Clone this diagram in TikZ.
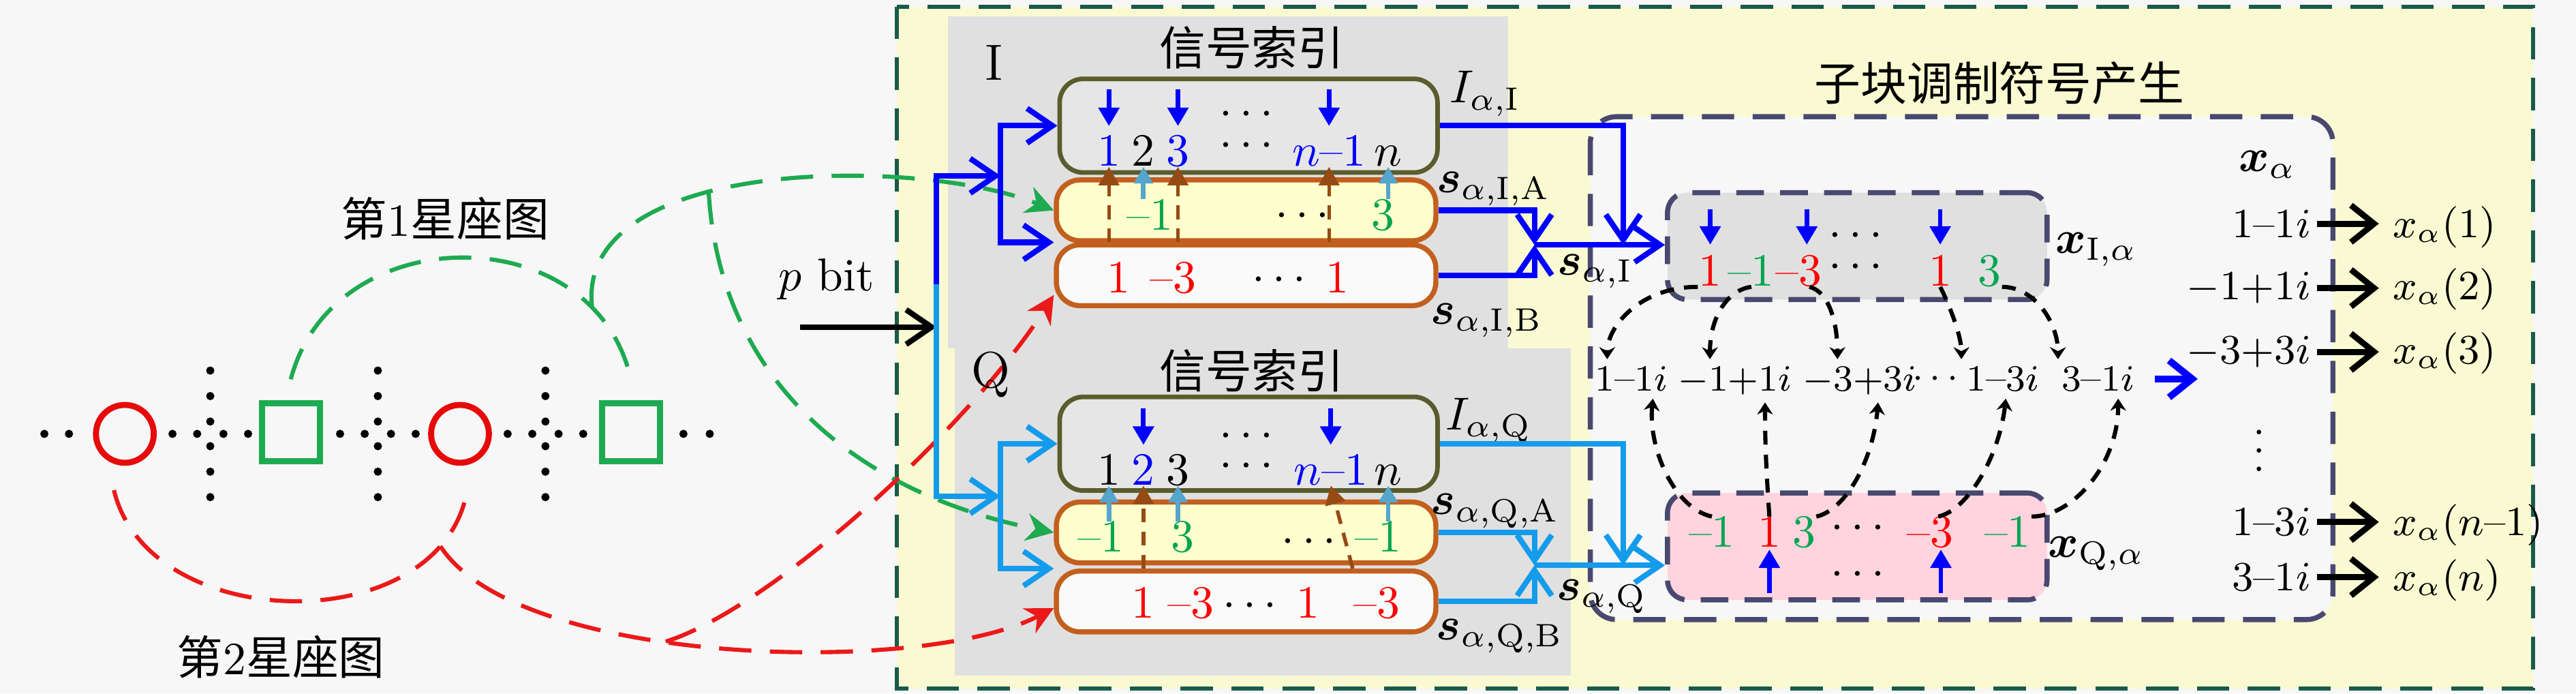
\documentclass[tikz,border=0pt]{standalone}
\usepackage{amsmath,amssymb}
\usepackage{fontspec}
\newfontfamily\cjk{Noto Sans CJK SC}
\usepackage{tikz}
\usetikzlibrary{arrows.meta,calc}
\definecolor{paper}{RGB}{247,247,247}
\definecolor{paleyellow}{RGB}{250,250,210}
\definecolor{panelgray}{RGB}{224,224,224}
\definecolor{boxgray}{RGB}{230,230,230}
\definecolor{boxyellow}{RGB}{255,255,205}
\definecolor{boxwhite}{RGB}{250,250,250}
\definecolor{boxpink}{RGB}{255,212,222}
\definecolor{deepteal}{RGB}{25,90,75}
\definecolor{slate}{RGB}{72,72,112}
\definecolor{oliveline}{RGB}{90,92,45}
\definecolor{brownline}{RGB}{195,95,30}
\definecolor{arrbrown}{RGB}{150,75,20}
\definecolor{iblue}{RGB}{0,0,255}
\definecolor{qblue}{RGB}{20,155,235}
\definecolor{steel}{RGB}{85,165,205}
\definecolor{numred}{RGB}{255,0,0}
\definecolor{numgreen}{RGB}{0,165,80}
\definecolor{curvered}{RGB}{235,25,25}
\definecolor{curvegreen}{RGB}{30,170,80}
\definecolor{mapred}{RGB}{230,10,10}
\newcommand{\px}{0.125mm}
\newcommand{\dsh}{\mbox{--}}
\tikzset{%
    bigtip/.tip={Straight Barb[length=5.5pt,width=7.5pt]},
    smalltip/.tip={Triangle[length=4pt,width=4.4pt]},
    curvetip/.tip={Stealth[length=6pt,width=6pt]},
    dashtip/.tip={Stealth[length=2.6pt,width=3.4pt]},
    ibus/.style={draw=iblue, line width=1.2pt},
    qbus/.style={draw=qblue, line width=1.2pt},
    idxbox/.style={draw=oliveline, line width=1pt, fill=boxgray, rounded corners=1.8mm,
        minimum width=230*\px, minimum height=57*\px},
    sabox/.style={draw=brownline, line width=1.1pt, fill=boxyellow, rounded corners=1.8mm,
        minimum width=231*\px, minimum height=37*\px},
    sbbox/.style={sabox, fill=boxwhite},
    xbox/.style={draw=slate, line width=1.1pt, dash pattern=on 6pt off 3.5pt, rounded corners=1.5mm,
        minimum width=231*\px, minimum height=65*\px},
    redpt/.style={circle, draw=mapred, line width=1.3pt, minimum size=4.4mm, inner sep=0pt},
    greenpt/.style={rectangle, draw=curvegreen, line width=1.3pt, minimum size=4.4mm, inner sep=0pt},
    num/.style={inner sep=0pt, anchor=base},
    dts/.style={inner sep=0pt, anchor=base, yshift=-0.25em},
    crow/.style={inner sep=0pt, anchor=base, font=\fontsize{8.5}{10}\selectfont},
    lst/.style={inner sep=0pt, font=\fontsize{9}{11}\selectfont},
    cjkl/.style={font=\fontsize{10}{12}\selectfont\cjk},
    downarr/.style={iblue, line width=1pt, -smalltip},
    steelarr/.style={steel, line width=1pt, -{Triangle[length=3.6pt,width=4pt]}},
    brarrow/.style={arrbrown, line width=0.8pt, dash pattern=on 3pt off 2pt, -smalltip},
    kdash/.style={black, line width=0.9pt, dash pattern=on 3pt off 2.2pt, -dashtip},
    gcurve/.style={curvegreen, line width=0.9pt, dash pattern=on 7pt off 4pt},
    rcurve/.style={curvered, line width=0.9pt, dash pattern=on 7pt off 4pt},
    karrow/.style={line width=1.3pt, -{Straight Barb[length=5pt,width=8pt]}}
}

\begin{document}
\begin{tikzpicture}[x=\px,y=-\px,font=\fontsize{10}{12}\selectfont]
\useasboundingbox (0,0) rectangle (1568,422);
\fill[paper] (0,0) rectangle (1568,422);

\filldraw[fill=paleyellow, draw=deepteal, line width=0.9pt, dash pattern=on 7pt off 4pt] (546,4) rectangle (1542,419);
\fill[panelgray] (577,10) rectangle (918,212);
\fill[panelgray] (581,212) rectangle (956,411);
\filldraw[fill=paper, draw=slate, line width=1.1pt, dash pattern=on 7pt off 4pt, rounded corners=2mm] (968,71) rectangle (1420,377);

\filldraw (27,264) circle (1.9);
\filldraw (42,264) circle (1.9);
\filldraw (105,264) circle (1.9);
\filldraw (120,264) circle (1.9);
\filldraw (136,264) circle (1.9);
\filldraw (151,264) circle (1.9);
\filldraw (207,264) circle (1.9);
\filldraw (222,264) circle (1.9);
\filldraw (238,264) circle (1.9);
\filldraw (253,264) circle (1.9);
\filldraw (309,264) circle (1.9);
\filldraw (324,264) circle (1.9);
\filldraw (340,264) circle (1.9);
\filldraw (355,264) circle (1.9);
\filldraw (416,264) circle (1.9);
\filldraw (432,264) circle (1.9);

\filldraw (128,225.5) circle (1.9);
\filldraw (128,241) circle (1.9);
\filldraw (128,256.5) circle (1.9);
\filldraw (128,271.5) circle (1.9);
\filldraw (128,287) circle (1.9);
\filldraw (128,302.5) circle (1.9);
\filldraw (230,225.5) circle (1.9);
\filldraw (230,241) circle (1.9);
\filldraw (230,256.5) circle (1.9);
\filldraw (230,271.5) circle (1.9);
\filldraw (230,287) circle (1.9);
\filldraw (230,302.5) circle (1.9);
\filldraw (332,225.5) circle (1.9);
\filldraw (332,241) circle (1.9);
\filldraw (332,256.5) circle (1.9);
\filldraw (332,271.5) circle (1.9);
\filldraw (332,287) circle (1.9);
\filldraw (332,302.5) circle (1.9);

\node[redpt] (cr1) at (76,264) {};
\node[greenpt] (sq1) at (177,263) {};
\node[redpt] (cr2) at (280,264) {};
\node[greenpt] (sq2) at (384,263) {};

\node[cjkl] (map1) at (271,133) {第{\rmfamily 1}星座图};
\node[cjkl] (map2) at (171,399.5) {第{\rmfamily 2}星座图};

\node[idxbox] (idxI) at (760,76.5) {};
\node[sabox] (sIA) at (758.5,128) {};
\node[sbbox] (sIB) at (758.5,167.5) {};
\node[idxbox] (idxQ) at (760,270) {};
\node[sabox] (sQA) at (758.5,324) {};
\node[sbbox] (sQB) at (758.5,366) {};

\node[xbox, fill=panelgray] (xI) at (1130.5,149.75) {};
\node[xbox, fill=boxpink] (xQ) at (1130.5,332.5) {};

\draw[gcurve] ([yshift=1.6mm]sq1.north) .. controls (203,132) and (362,132) .. ([yshift=1.6mm]sq2.north) coordinate[pos=0.82] (gk);
\draw[gcurve, -curvetip] (gk) .. controls (350,95) and (560,95) .. (sIA.west) coordinate[pos=0.4] (gb);
\draw[gcurve, -curvetip] (gb) .. controls (438,230) and (520,300) .. (sQA.west);

\draw[rcurve] ([yshift=-2mm]cr1.250) .. controls (90,385) and (262,390) .. ([yshift=-2.5mm]cr2.280) coordinate[pos=0.87] (rk);
\draw[rcurve, -curvetip] (rk) .. controls (315,405) and (560,412) .. ([yshift=-0.5mm]sQB.west) coordinate[pos=0.42] (rb);
\draw[rcurve, -curvetip] (rb) .. controls (470,370) and (590,260) .. ([yshift=-1.5mm]sIB.west);

\node (pbit) at (503,170) {$p$ bit};
\coordinate (pin) at (487,199);
\coordinate (join) at (570,199);
\coordinate (split) at (570,173);
\coordinate (busI) at (609,107);
\coordinate (busQ) at (609,302);
\draw[line width=1.2pt, -bigtip] (pin) -- (join);
\draw[ibus, -bigtip] (split) |- (busI);
\draw[qbus, -bigtip] (split) |- (busQ);
\draw[ibus, -bigtip] (busI) |- (idxI.west);
\draw[ibus, -bigtip] (busI) |- (sIB.north west);
\draw[qbus, -bigtip] (busQ) |- (idxQ.west);
\draw[qbus, -bigtip] (busQ) |- (sQB.north west);

\node[font=\fontsize{11}{13}\selectfont] (labI) at (605,38) {I};
\node[font=\fontsize{11}{13}\selectfont] (labQ) at (603,228) {Q};
\node[cjkl] (tagI) at (762,29) {信号索引};
\node[cjkl] (tagQ) at (762,225.5) {信号索引};

\node[num, iblue] (iI1) at (675,101) {$1$};
\node[num] (iI2) at (696,101) {$2$};
\node[num, iblue] (iI3) at (717,101) {$3$};
\node[dts] at (761,88) {$\cdots$};
\node[dts] at (761,69) {$\cdots$};
\node[num, iblue] (iIn1) at (809,101) {$n\dsh1$};
\node[num] (iIn) at (845,101) {$n$};
\draw[downarr] ([yshift=3.5mm]iI1.north) -- ([yshift=0.7mm]iI1.north);
\draw[downarr] ([yshift=3.5mm]iI3.north) -- ([yshift=0.7mm]iI3.north);
\draw[downarr] ([yshift=3.5mm]iIn1.north) -- ([yshift=0.7mm]iIn1.north);

\node[num, numgreen] (gI1) at (700,140) {$\dsh1$};
\node[dts] at (795,131) {$\cdots$};
\node[num, numgreen] (gI2) at (842,140) {$3$};
\node[num, numred] (rI1) at (681,178) {$1$};
\node[num, numred] (rI2) at (714,178) {$\dsh3$};
\node[dts] at (781,170) {$\cdots$};
\node[num, numred] (rI3) at (814,178) {$1$};
\draw[brarrow] (sIB.north -| iI1) -- (iI1.south);
\draw[brarrow] (sIB.north -| iI3) -- (iI3.south);
\draw[brarrow] (sIB.north -| iIn1) -- (iIn1.south);
\draw[steelarr] (gI1.north -| iI2) -- (iI2.south);
\draw[steelarr] (gI2.north -| iIn) -- (iIn.south);

\node[num] (iQ1) at (675,295) {$1$};
\node[num, iblue] (iQ2) at (696,295) {$2$};
\node[num] (iQ3) at (717,295) {$3$};
\node[dts] at (761,283) {$\cdots$};
\node[dts] at (761,265) {$\cdots$};
\node[num, iblue] (iQn1) at (810,295) {$n\dsh1$};
\node[num] (iQn) at (845,295) {$n$};
\draw[downarr] ([yshift=3.5mm]iQ2.north) -- ([yshift=0.7mm]iQ2.north);
\draw[downarr] ([yshift=3.5mm]iQn1.north) -- ([yshift=0.7mm]iQn1.north);

\node[num, numgreen] (gQ1) at (670,336) {$\dsh1$};
\node[num, numgreen] (gQ2) at (720,336) {$3$};
\node[dts] at (799,329) {$\cdots$};
\node[num, numgreen] (gQ3) at (839,336) {$\dsh1$};
\node[num, numred] (rQ1) at (696,376) {$1$};
\node[num, numred] (rQ2) at (725,376) {$\dsh3$};
\node[dts] at (763,368) {$\cdots$};
\node[num, numred] (rQ3) at (796,376) {$1$};
\node[num, numred] (rQ4) at (838,376) {$\dsh3$};
\draw[brarrow] (sQB.north -| iQ2) -- (iQ2.south);
\draw[brarrow] (sQB.north -| rQ4.west) -- (iQn1.south);
\draw[steelarr] (gQ1.north -| iQ1) -- (iQ1.south);
\draw[steelarr] (gQ2.north -| iQ3) -- (iQ3.south);
\draw[steelarr] (gQ3.north -| iQn) -- (iQn.south);

\node (lIdxI) at (904,57) {$I_{\alpha,\mathrm{I}}$};
\node (lsIA) at (909,115) {$\boldsymbol{s}_{\alpha,\mathrm{I},\mathrm{A}}$};
\node (lsIB) at (905,195) {$\boldsymbol{s}_{\alpha,\mathrm{I},\mathrm{B}}$};
\node (lIdxQ) at (906,256) {$I_{\alpha,\mathrm{Q}}$};
\node (lsQA) at (910,311) {$\boldsymbol{s}_{\alpha,\mathrm{Q},\mathrm{A}}$};
\node (lsQB) at (913,387) {$\boldsymbol{s}_{\alpha,\mathrm{Q},\mathrm{B}}$};

\coordinate (mI) at (988,149);
\coordinate (xjI) at (934,149);
\draw[ibus, -bigtip] (idxI.east) -| (mI);
\draw[ibus, -bigtip] (sIA.east) -| (xjI);
\draw[ibus, -bigtip] (sIB.east) -| (xjI);
\draw[ibus, -bigtip] (xjI) -- (xjI -| xI.west);
\coordinate (mQ) at (988,344);
\coordinate (xjQ) at (934,344);
\draw[qbus, -bigtip] (idxQ.east) -| (mQ);
\draw[qbus, -bigtip] (sQA.east) -| (xjQ);
\draw[qbus, -bigtip] (sQB.east) -| (xjQ);
\draw[qbus, -bigtip] (xjQ) -- (xjQ -| xQ.west);
\node (lsI) at (971,165) {$\boldsymbol{s}_{\alpha,\mathrm{I}}$};
\node (lsQ) at (975,363) {$\boldsymbol{s}_{\alpha,\mathrm{Q}}$};

\node[cjkl] (gentitle) at (1217,50.5) {子块调制符号产生};

\node[num, numred] (xIv1) at (1041,174) {$1$};
\node[num, numgreen] (xIv2) at (1066,174) {$\dsh1$};
\node[num, numred] (xIv3) at (1095,174) {$\dsh3$};
\node[dts] at (1132,162) {$\cdots$};
\node[dts] at (1132,143) {$\cdots$};
\node[num, numred] (xIv4) at (1181,174) {$1$};
\node[num, numgreen] (xIv5) at (1211,174) {$3$};
\draw[downarr] ([yshift=3.5mm]xIv1.north) -- ([yshift=0.8mm]xIv1.north);
\draw[downarr] ([xshift=0.6mm,yshift=3.5mm]xIv3.north) -- ([xshift=0.6mm,yshift=0.8mm]xIv3.north);
\draw[downarr] ([yshift=3.5mm]xIv4.north) -- ([yshift=0.8mm]xIv4.north);
\node (lxI) at (1276,152) {$\boldsymbol{x}_{\mathrm{I},\alpha}$};

\node[num, numgreen] (xQv1) at (1042,333) {$\dsh1$};
\node[num, numred] (xQv2) at (1077,333) {$1$};
\node[num, numgreen] (xQv3) at (1098,333) {$3$};
\node[dts] at (1133,321) {$\cdots$};
\node[dts] at (1133,349) {$\cdots$};
\node[num, numred] (xQv4) at (1175,333) {$\dsh3$};
\node[num, numgreen] (xQv5) at (1222,333) {$\dsh1$};
\draw[downarr] ([yshift=-3.4mm]xQv2.south) -- ([yshift=-0.1mm]xQv2.south);
\draw[downarr] ([xshift=0.8mm,yshift=-3.4mm]xQv4.south) -- ([xshift=0.8mm,yshift=-0.1mm]xQv4.south);
\node (lxQ) at (1276,337) {$\boldsymbol{x}_{\mathrm{Q},\alpha}$};

\node[crow] (cv1) at (993,238) {$1\dsh1i$};
\node[crow] (cv2) at (1056,238) {$-1{+}1i$};
\node[crow] (cv3) at (1132,238) {$-3{+}3i$};
\node[crow] (cvd) at (1180,236) {$\cdots$};
\node[crow] (cv4) at (1219,238) {$1\dsh3i$};
\node[crow] (cv5) at (1277,238) {$3\dsh1i$};
\draw[ibus, line width=1.5pt, -{Straight Barb[length=5pt,width=8pt]}] ([xshift=1.5mm]cv5.east) -- ++(26,0);

\draw[kdash] (xIv1.south west) .. controls +(-35,0) and +(0,-20) .. ([xshift=1mm,yshift=0.5mm]cv1.north west);
\draw[kdash] (xIv2.south) .. controls +(-15,2) and +(0,-25) .. ([xshift=2.5mm,yshift=0.5mm]cv2.north west);
\draw[kdash] ([xshift=0.8mm]xIv3.south) .. controls +(12,3) and +(0,-22) .. ([xshift=2.7mm,yshift=0.5mm]cv3.north west);
\draw[kdash] (xIv4.south) .. controls +(5,10) and +(0,-15) .. ([xshift=-0.3mm,yshift=0.5mm]cv4.north west);
\draw[kdash] (xIv5.south east) .. controls +(20,0) and +(0,-22) .. ([xshift=-0.2mm,yshift=0.5mm]cv5.north west);

\draw[kdash] (xQv1.north) .. controls +(-23,-5) and +(-3,30) .. ([xshift=-1.2mm,yshift=-0.5mm]cv1.south east);
\draw[kdash] (xQv2.north) .. controls +(-2,-30) and +(0,25) .. ([xshift=-2.1mm,yshift=-0.5mm]cv2.south east);
\draw[kdash] (xQv3.north east) .. controls +(18,-4) and +(-3,35) .. ([xshift=-3mm,yshift=-0.5mm]cv3.south east);
\draw[kdash] ([xshift=0.6mm]xQv4.north) .. controls +(18,-4) and +(-4,35) .. ([xshift=-2.6mm,yshift=-0.5mm]cv4.south east);
\draw[kdash] (xQv5.north east) .. controls +(25,0) and +(0,40) .. ([xshift=-1.3mm,yshift=-0.5mm]cv5.south east);

\node (xal) at (1380,100) {$\boldsymbol{x}_{\alpha}$};
\node[lst, anchor=base east] (v1) at (1407,144.5) {$1\dsh1i$};
\node[lst, anchor=base east] (v2) at (1407,182.5) {$-1{+}1i$};
\node[lst, anchor=base east] (v3) at (1407,221.3) {$-3{+}3i$};
\node[lst] (vd) at (1375,266) {$\vdots$};
\node[lst, anchor=base east] (v4) at (1407,326) {$1\dsh3i$};
\node[lst, anchor=base east] (v5) at (1407,359.5) {$3\dsh1i$};
\node[lst, anchor=base west] (xa1) at (1456,144.5) {$x_\alpha(1)$};
\node[lst, anchor=base west] (xa2) at (1456,182.5) {$x_\alpha(2)$};
\node[lst, anchor=base west] (xa3) at (1456,221.3) {$x_\alpha(3)$};
\node[lst, anchor=base west] (xa4) at (1456,326) {$x_\alpha(n\dsh1)$};
\node[lst, anchor=base west] (xa5) at (1456,359.5) {$x_\alpha(n)$};
\draw[karrow] ([xshift=0.4mm]v1.east) -- ([xshift=-1mm]v1.east -| xa1.west);
\draw[karrow] ([xshift=0.4mm]v2.east) -- ([xshift=-1mm]v2.east -| xa2.west);
\draw[karrow] ([xshift=0.4mm]v3.east) -- ([xshift=-1mm]v3.east -| xa3.west);
\draw[karrow] ([xshift=0.4mm]v4.east) -- ([xshift=-1mm]v4.east -| xa4.west);
\draw[karrow] ([xshift=0.4mm]v5.east) -- ([xshift=-1mm]v5.east -| xa5.west);
\end{tikzpicture}
\end{document}
